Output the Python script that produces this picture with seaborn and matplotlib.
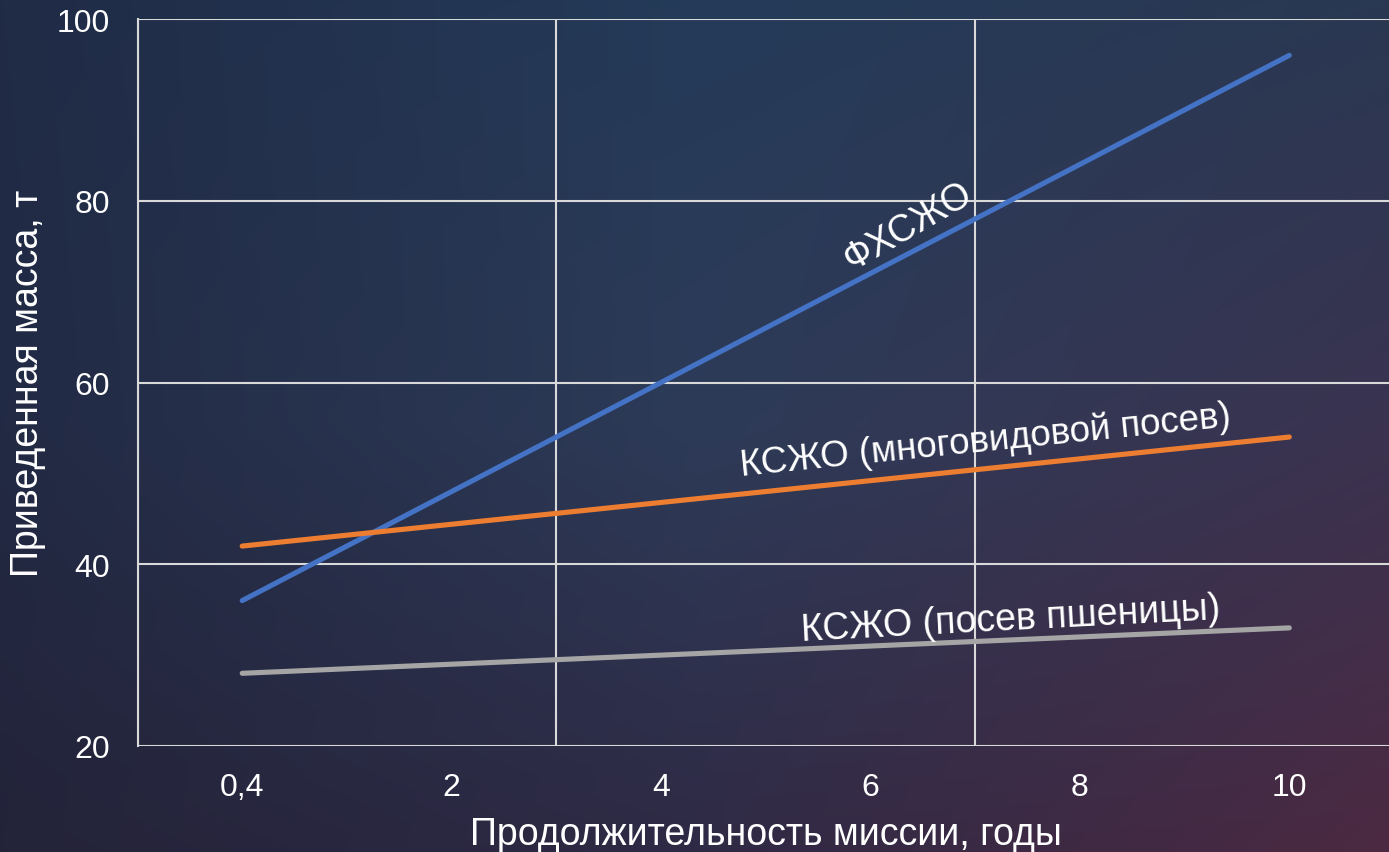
import numpy as np
import pandas as pd
import matplotlib
matplotlib.use("Agg")
import matplotlib.pyplot as plt
import seaborn as sns

# ---- data ----
categories = ["0,4", "2", "4", "6", "8", "10"]
fhszho = [36, 48, 60, 72, 84, 96]
kszho_multi = [42, 44.4, 46.8, 49.2, 51.6, 54]
kszho_wheat = [28, 29, 30, 31, 32, 33]
series_names = ["ФХСЖО", "КСЖО (многовидовой посев)", "КСЖО (посев пшеницы)"]
series_colors = ["#4472c4", "#ed7d31", "#a5a5a5"]
y_ticks = [20, 40, 60, 80, 100]
x_label = "Продолжительность миссии, годы"
y_label = "Приведенная масса, т"

df = pd.DataFrame({
    "cat": categories * 3,
    "value": fhszho + kszho_multi + kszho_wheat,
    "series": sum([[n] * len(categories) for n in series_names], []),
})

sns.set_theme(style="white")
plt.rcParams["font.family"] = ["Liberation Sans", "DejaVu Sans"]

W, H = 1389, 853
fig = plt.figure(figsize=(W / 100, H / 100), dpi=100)

# background gradient
grid = np.array([
    [[0x20, 0x2b, 0x46], [0x24, 0x3b, 0x59], [0x2a, 0x38, 0x52]],
    [[0x22, 0x2a, 0x44], [0x2d, 0x3b, 0x58], [0x3a, 0x33, 0x50]],
    [[0x23, 0x23, 0x39], [0x2f, 0x2a, 0x45], [0x4c, 0x29, 0x42]],
], dtype=float) / 255.0
ny, nx = 200, 300
yy = np.linspace(0, 2, ny)
xx = np.linspace(0, 2, nx)
img = np.zeros((ny, nx, 3))
for i, yv in enumerate(yy):
    r0 = min(int(yv), 1)
    ty = yv - r0
    for j, xv in enumerate(xx):
        c0 = min(int(xv), 1)
        tx = xv - c0
        a = grid[r0, c0] * (1 - tx) + grid[r0, c0 + 1] * tx
        b = grid[r0 + 1, c0] * (1 - tx) + grid[r0 + 1, c0 + 1] * tx
        img[i, j] = a * (1 - ty) + b * ty
bg = fig.add_axes([0, 0, 1, 1], zorder=-10)
bg.imshow(img, aspect="auto", extent=[0, 1, 0, 1], interpolation="bilinear")
bg.axis("off")

left, right, top, bottom = 137.5, 1394, 20, 747
ax = fig.add_axes([left / W, 1 - bottom / H, (right - left) / W, (bottom - top) / H])
ax.set_facecolor("none")

sns.lineplot(data=df, x="cat", y="value", hue="series", palette=series_colors,
             hue_order=series_names, sort=False, lw=3.7, legend=False, ax=ax,
             solid_capstyle="round")

ax.set_xlim(-0.5, len(categories) - 0.5)
ax.set_ylim(20, 100)
ax.set_yticks(y_ticks)
ax.set_xticks(range(len(categories)))
ax.set_xticklabels(categories)
ax.set_xticks([-0.5, 1.5, 3.5, 5.5], minor=True)
ax.grid(False)
ax.grid(True, axis="y", which="major", color="#d9d9d9", lw=1.5)
ax.grid(True, axis="x", which="minor", color="#d9d9d9", lw=1.5)
for s in ["top", "right", "bottom"]:
    ax.spines[s].set_visible(False)
ax.spines["left"].set_color("#d9d9d9")
ax.spines["left"].set_linewidth(1.5)
ax.tick_params(axis="both", which="both", length=0, colors="white", labelsize=23)
ax.tick_params(axis="x", pad=19)
ax.tick_params(axis="y", pad=20)
for lab in ax.get_xticklabels() + ax.get_yticklabels():
    lab.set_color("white")

ax.set_xlabel(x_label, color="white", fontsize=27, labelpad=10)
ax.set_ylabel(y_label, color="white", fontsize=27, va="center")
ax.yaxis.set_label_coords((28 - left) / (right - left), 0.5)

# annotations
ax.text(3.18, 77.2, series_names[0], color="white", fontsize=27, rotation=30,
        ha="center", va="center", rotation_mode="anchor")
ax.text(3.55, 53.6, series_names[1], color="white", fontsize=26.5, rotation=5.8,
        ha="center", va="center", rotation_mode="anchor")
ax.text(3.67, 34.0, series_names[2], color="white", fontsize=27, rotation=3,
        ha="center", va="center", rotation_mode="anchor")

fig.savefig("out.png", dpi=100)
